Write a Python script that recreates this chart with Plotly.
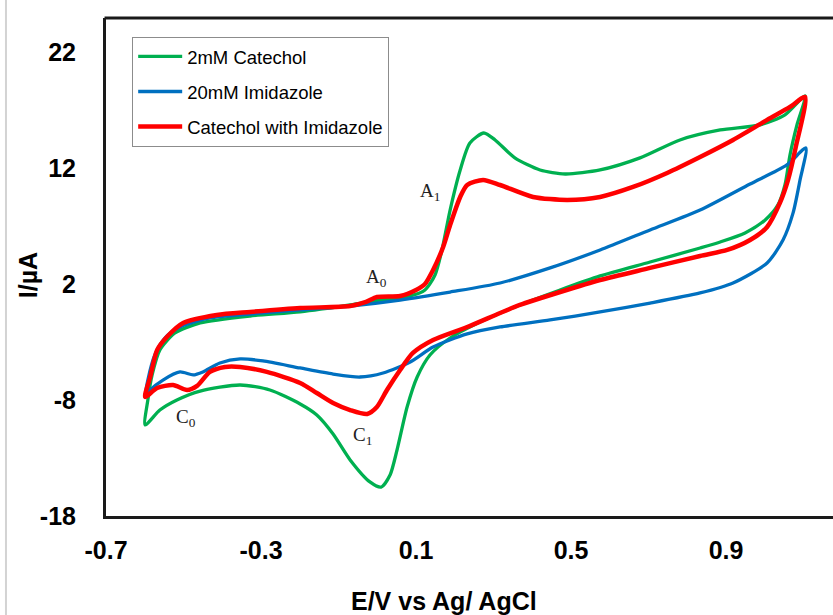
import plotly.graph_objects as go

# ---- data (E in V vs Ag/AgCl, I in µA) ----
cat_E = [-0.599, -0.592, -0.581, -0.561, -0.522, -0.457, -0.328, -0.199, -0.070, 0.007, 0.085, 0.123,
         0.149, 0.167, 0.188, 0.214, 0.239, 0.275, 0.304, 0.355, 0.420, 0.485, 0.575, 0.678, 0.781,
         0.885, 0.988, 1.052, 1.104,
         1.083, 1.065, 1.052, 1.034, 1.001, 0.949, 0.885, 0.833, 0.704, 0.575, 0.472, 0.368, 0.265,
         0.188, 0.136, 0.103, 0.077, 0.051, 0.033, 0.010, -0.019, -0.070, -0.114, -0.156, -0.199,
         -0.277, -0.354, -0.457, -0.517, -0.561, -0.599]
cat_I = [-10.14, -7.98, -5.82, -3.66, -2.20, -1.33, -0.73, -0.38, 0.22, 0.65, 1.00, 1.52,
         2.81, 4.97, 8.42, 11.88, 14.21, 15.07, 14.47, 12.92, 11.88, 11.53, 11.88, 12.92, 14.47,
         15.33, 15.77, 16.63, 18.27,
         15.77, 13.17, 10.58, 8.86, 7.56, 6.44, 5.66, 5.14, 3.93, 2.73, 1.52, 0.22, -1.25,
         -2.63, -4.10, -6.00, -8.59, -12.30, -14.46, -15.50, -15.06, -13.16, -10.92, -9.28, -8.33,
         -7.12, -6.69, -7.21, -7.98, -8.85, -10.14]

imi_E = [-0.599, -0.592, -0.574, -0.548, -0.509, -0.432, -0.328, -0.199, -0.070, 0.059, 0.188, 0.317,
         0.446, 0.575, 0.704, 0.833, 0.962, 1.057, 1.106,
         1.091, 1.073, 1.047, 1.006, 0.918, 0.833, 0.704, 0.575, 0.446, 0.317, 0.232, 0.144, 0.085,
         0.015, -0.045, -0.114, -0.199, -0.295, -0.354, -0.406, -0.450, -0.475, -0.509, -0.553,
         -0.586, -0.599]
imi_I = [-7.72, -6.26, -4.10, -2.63, -1.68, -0.90, -0.56, -0.21, 0.13, 0.65, 1.34, 2.12,
         3.42, 4.97, 6.70, 8.42, 10.67, 12.31, 13.78,
         11.02, 8.17, 5.83, 3.85, 2.12, 1.26, 0.39, -0.38, -1.07, -1.68, -2.28, -3.41, -4.70,
         -5.65, -6.00, -5.74, -5.22, -4.61, -4.44, -4.79, -5.56, -5.82, -5.56, -6.26,
         -7.12, -7.72]

mix_E = [-0.599, -0.586, -0.568, -0.543, -0.501, -0.414, -0.328, -0.199, -0.070, -0.029, -0.001,
         0.059, 0.100, 0.123, 0.144, 0.170, 0.188, 0.214, 0.232, 0.273, 0.317, 0.402, 0.490, 0.575,
         0.660, 0.748, 0.833, 0.918, 1.006, 1.065, 1.104,
         1.080, 1.060, 1.039, 1.006, 0.962, 0.903, 0.833, 0.704, 0.575, 0.472, 0.368, 0.317, 0.232,
         0.144, 0.092, 0.059, 0.025, -0.001, -0.026, -0.070, -0.114, -0.156, -0.199, -0.285,
         -0.354, -0.393, -0.432, -0.465, -0.491, -0.527, -0.568, -0.599]
mix_I = [-7.72, -6.00, -3.66, -2.54, -1.33, -0.64, -0.38, -0.04, 0.13, 0.48, 0.91,
         1.00, 1.52, 2.03, 3.24, 5.23, 7.13, 9.55, 10.58, 11.02, 10.58, 9.55, 9.29, 9.55,
         10.41, 11.62, 13.00, 14.47, 16.20, 17.32, 18.18,
         13.87, 11.02, 9.03, 6.96, 5.83, 4.97, 4.45, 3.42, 2.38, 1.34, 0.22, -0.47, -1.68,
         -2.80, -3.92, -5.39, -7.12, -8.59, -9.19, -8.85, -8.24, -7.38, -6.51, -5.56,
         -5.13, -5.13, -5.56, -6.77, -7.12, -6.69, -6.95, -7.72]

series_names = ["2mM Catechol", "20mM Imidazole", "Catechol with Imidazole"]
series_colors = ["#00B050", "#0070C0", "#FF0000"]

x_ticks = [-0.7, -0.3, 0.1, 0.5, 0.9]
y_ticks = [-18, -8, 2, 12, 22]

peak_labels = ["A<sub>1</sub>", "A<sub>0</sub>", "C<sub>0</sub>", "C<sub>1</sub>"]
peak_E = [0.136, -0.001, -0.494, -0.037]
peak_I = [9.98, 2.55, -9.54, -11.09]

# ---- figure ----
fig = go.Figure()
for E, I, name, col, w in zip([cat_E, imi_E, mix_E], [cat_I, imi_I, mix_I],
                              series_names, series_colors, [3.3, 3.3, 4.5]):
    fig.add_trace(go.Scatter(x=E, y=I, mode="lines", name=name, legendgroup=name,
                             line=dict(color=col, width=w, shape="spline", smoothing=0.7)))

for t, e, i in zip(peak_labels, peak_E, peak_I):
    fig.add_annotation(x=e, y=i, text=t, showarrow=False,
                       font=dict(family="Liberation Serif", size=19, color="#222"))

fig.update_layout(
    width=833, height=615,
    margin=dict(l=106, r=0, t=18, b=99),
    paper_bgcolor="white", plot_bgcolor="white",
    showlegend=True,
    legend=dict(x=0.036, y=0.962, xanchor="left", yanchor="top",
                bordercolor="#8c8c8c", borderwidth=1, bgcolor="white",
                font=dict(family="Liberation Sans", size=18.5, color="black"),
                tracegroupgap=8, traceorder="grouped", itemwidth=44),
    xaxis=dict(range=[-0.7, 1.176], tickvals=x_ticks, ticktext=[f"<b>{v:g}</b>" for v in x_ticks],
               showgrid=False, zeroline=False, showline=True, linecolor="#1a1a1a", linewidth=3,
               ticks="", ticklabelstandoff=10,
               tickfont=dict(family="Liberation Sans", size=25, color="black")),
    yaxis=dict(range=[-18, 25.0], tickvals=y_ticks, ticktext=[f"<b>{v}</b>" for v in y_ticks],
               showgrid=False, zeroline=False, showline=True, linecolor="#1a1a1a", linewidth=3,
               ticks="", ticklabelstandoff=22,
               tickfont=dict(family="Liberation Sans", size=25, color="black")),
)

# top frame line and page border
fig.add_shape(type="line", xref="paper", yref="paper", x0=-0.002, x1=1, y0=1, y1=1,
              line=dict(color="#1a1a1a", width=3))
fig.add_shape(type="line", xref="paper", yref="paper", x0=-0.1376, x1=-0.1376, y0=1.04, y1=-0.2,
              line=dict(color="#d3d3d3", width=2))

# axis titles
fig.add_annotation(xref="paper", yref="paper", x=0.465, y=-0.171, xanchor="center", yanchor="middle",
                   text="<b>E/V vs Ag/ AgCl</b>",
                   showarrow=False, font=dict(family="Liberation Sans", size=25, color="black"))
fig.add_annotation(xref="paper", yref="paper", x=-0.107, y=0.484, xanchor="center", yanchor="middle",
                   text="<b>I/µA</b>", textangle=-90,
                   showarrow=False, font=dict(family="Liberation Sans", size=25, color="black"))

fig.write_html("out.html")
